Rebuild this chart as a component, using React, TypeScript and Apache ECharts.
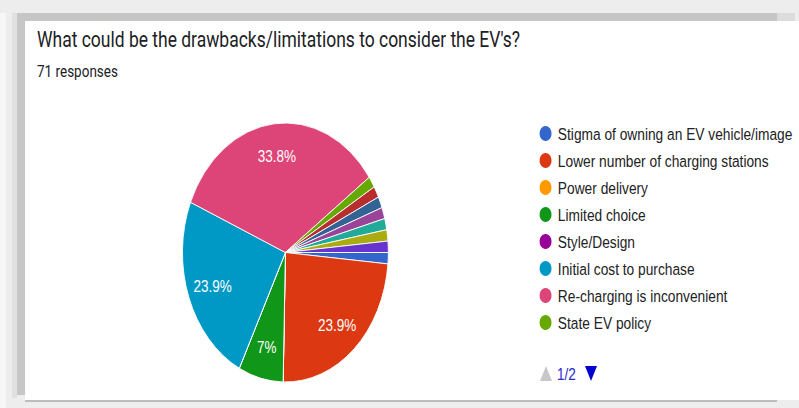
import React, { useEffect, useRef } from "react";
import * as echarts from "echarts";

const categories = [
  "Stigma of owning an EV vehicle/image",
  "Lower number of charging stations",
  "Power delivery",
  "Limited choice",
  "Style/Design",
  "Initial cost to purchase",
  "Re-charging is inconvenient",
  "State EV policy",
  "Other response 1",
  "Other response 2",
  "Other response 3",
  "Other response 4",
  "Other response 5",
  "Other response 6",
];
const responses = [1, 17, 0, 5, 0, 17, 24, 1, 1, 1, 1, 1, 1, 1];
const colors = [
  "#3366cc", "#dc3912", "#ff9900", "#109618", "#990099", "#0099c6", "#dd4477",
  "#66aa00", "#b82e2e", "#316395", "#994499", "#22aa99", "#aaaa11", "#6633cc",
];
const legendPageSize = 8;
const titleText = "What could be the drawbacks/limitations to consider the EV's?";
const subText = "71 responses";
const pagerText = "1/2";

const SX = 0.795;
const W = Math.round(799 / SX);
const CX = 359;
const CY = 252.5;
const R = 129.5;

export default function App() {
  const ref = useRef<HTMLDivElement>(null);
  useEffect(() => {
    if (!ref.current) return;
    const chart = echarts.init(ref.current, undefined, { renderer: "svg" });
    const px = (x: number) => x / SX;
    chart.setOption({
      animation: false,
      color: colors,
      legend: {
        orient: "vertical",
        left: px(538),
        top: 124,
        padding: 0,
        itemWidth: 21,
        itemHeight: 17,
        itemGap: 8,
        icon: "circle",
        data: categories.slice(0, legendPageSize),
        selectedMode: false,
        textStyle: {
          fontFamily: "Liberation Sans, Arial, sans-serif",
          fontSize: 17.3,
          color: "#222222",
        },
      },
      graphic: [
        {
          type: "text",
          x: px(37),
          y: 40,
          style: {
            text: titleText,
            font: "22px Roboto, sans-serif",
            fill: "#202124",
            verticalAlign: "middle",
          },
        },
        {
          type: "text",
          x: px(37),
          y: 71,
          style: {
            text: subText,
            font: "17px Roboto, sans-serif",
            fill: "#202124",
            verticalAlign: "middle",
          },
        },
        {
          type: "polygon",
          shape: { points: [[px(540), 381], [px(552), 381], [px(546), 366]] },
          style: { fill: "#c8c8c8" },
        },
        {
          type: "text",
          x: px(557),
          y: 374,
          style: {
            text: pagerText,
            font: "17px Liberation Sans, Arial, sans-serif",
            fill: "#2a2acc",
            verticalAlign: "middle",
          },
        },
        {
          type: "polygon",
          shape: { points: [[px(585), 366], [px(597), 366], [px(591), 381]] },
          style: { fill: "#0000cc" },
        },
      ],
      series: [
        {
          type: "pie",
          center: [CX, CY],
          radius: R,
          startAngle: 0,
          clockwise: true,
          silent: true,
          itemStyle: { borderColor: "#ffffff", borderWidth: 1 },
          label: {
            position: "inside",
            color: "#ffffff",
            fontFamily: "Liberation Sans, Arial, sans-serif",
            fontSize: 17,
            formatter: (p: any) =>
              p.percent >= 5 ? Math.round(p.percent * 10) / 10 + "%" : "",
          },
          labelLine: { show: false },
          labelLayout: (p: any) => {
            const r = p.labelRect;
            const lx = r.x + r.width / 2;
            const ly = r.y + r.height / 2;
            return { x: CX + (lx - CX) * 1.44, y: CY + (ly - CY) * 1.44 };
          },
          data: categories.map((name, i) => ({ name, value: responses[i] })),
        },
      ],
    });
    return () => chart.dispose();
  }, []);

  const band = "#c6c6c6";
  return (
    <div
      style={{
        position: "fixed",
        left: 0,
        top: 0,
        width: 799,
        height: 408,
        background: "#ededed",
        overflow: "hidden",
      }}
    >
      <div style={{ position: "absolute", left: 0, top: 13, width: 6, height: 395, background: "#f7f7f7" }} />
      <div style={{ position: "absolute", left: 6, top: 13, width: 6, height: 395, background: "#ededed" }} />
      <div style={{ position: "absolute", left: 12, top: 13, width: 5, height: 385, background: "#e0e0e0" }} />
      <div style={{ position: "absolute", left: 17, top: 13, width: 760, height: 8, background: band }} />
      <div style={{ position: "absolute", left: 777, top: 13, width: 18, height: 8, background: "#dcdcdc" }} />
      <div style={{ position: "absolute", left: 17, top: 13, width: 8, height: 382, background: band }} />
      <div style={{ position: "absolute", left: 25, top: 21, width: 774, height: 379, background: "#ffffff" }} />
      <div style={{ position: "absolute", left: 25, top: 400, width: 752, height: 2, background: "#bdbdbd" }} />
      <div
        ref={ref}
        style={{
          position: "absolute",
          left: 0,
          top: 0,
          width: W,
          height: 408,
          transform: `scaleX(${SX})`,
          transformOrigin: "0 0",
        }}
      />
    </div>
  );
}
